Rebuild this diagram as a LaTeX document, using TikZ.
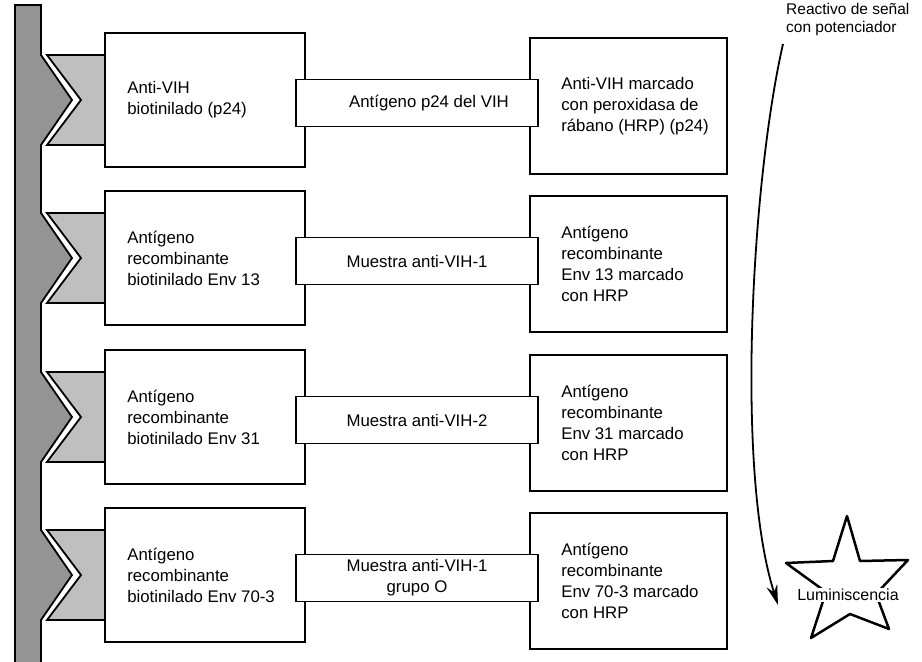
\documentclass[tikz,border=0pt]{standalone}
\usepackage{fontspec}
\setmainfont{Liberation Sans}
\usetikzlibrary{arrows.meta}
\begin{document}
\begin{tikzpicture}[x=1pt,y=-1pt,
  box/.style={draw, line width=1.8pt, fill=white, inner sep=0pt},
  lbox/.style={box, minimum width=200pt, minimum height=134pt},
  rbox/.style={box, minimum width=197pt, minimum height=136pt},
  mbox/.style={box, minimum width=242pt, minimum height=47pt, font=\fontsize{16.8}{21}\selectfont, align=center},
  txt/.style={font=\fontsize{16.8}{21}\selectfont, align=left, inner sep=0pt, anchor=west},
  bar/.style={fill=black!42, draw=black, line width=1.8pt, line join=miter},
  piece/.style={fill=black!25, draw=black, line width=1.8pt},
  starline/.style={draw=black, line width=2.5pt, line join=round}
  ]
\useasboundingbox (0,0) rectangle (922,662);
\fill[white] (0,0) rectangle (922,662);
% support bar
\begin{scope}
\clip (0,0) rectangle (922,662);
\filldraw[bar] (15,5) -- (41,5)
  -- (41,55) -- (72,100) -- (41,145)
  -- (41,213) -- (72,258) -- (41,303)
  -- (41,372) -- (72,417) -- (41,462)
  -- (41,530) -- (72,575) -- (41,620)
  -- (41,672) -- (15,672) -- cycle;
\end{scope}
% chevron pieces
\foreach \c in {100,258,417,575}{
  \filldraw[piece] (47,\c-45) -- (106,\c-45) -- (106,\c+45) -- (47,\c+45) -- (81,\c) -- cycle;
}
% left boxes
\node[lbox] (L1) at (205,100) {};
\node[lbox] (L2) at (205,258) {};
\node[lbox] (L3) at (205,417) {};
\node[lbox] (L4) at (205,575) {};
\node[txt] (tL1) at ([xshift=23pt]L1.west) {Anti-VIH\\biotinilado (p24)};
\node[txt] (tL2) at ([xshift=23pt]L2.west) {Antígeno\\recombinante\\biotinilado Env 13};
\node[txt] (tL3) at ([xshift=23pt]L3.west) {Antígeno\\recombinante\\biotinilado Env 31};
\node[txt] (tL4) at ([xshift=23pt]L4.west) {Antígeno\\recombinante\\biotinilado Env 70-3};
% right boxes
\node[rbox] (R1) at (628.5,106) {};
\node[rbox] (R2) at (628.5,264) {};
\node[rbox] (R3) at (628.5,423) {};
\node[rbox] (R4) at (628.5,581) {};
\node[txt] (tR1) at ([xshift=32pt]R1.west) {Anti-VIH marcado\\con peroxidasa de\\rábano (HRP) (p24)};
\node[txt] (tR2) at ([xshift=32pt]R2.west) {Antígeno\\recombinante\\Env 13 marcado\\con HRP};
\node[txt] (tR3) at ([xshift=32pt]R3.west) {Antígeno\\recombinante\\Env 31 marcado\\con HRP};
\node[txt] (tR4) at ([xshift=32pt]R4.west) {Antígeno\\recombinante\\Env 70-3 marcado\\con HRP};
% middle boxes
\node[mbox] (M1) at (417,103) {\hspace*{24pt}Antígeno p24 del VIH};
\node[mbox] (M2) at (417,261) {Muestra anti-VIH-1};
\node[mbox] (M3) at (417,420) {Muestra anti-VIH-2};
\node[mbox] (M4) at (417,578) {Muestra anti-VIH-1\\grupo O};
% signal reagent label and arrow
\node[font=\fontsize{15.5}{18}\selectfont, align=left, anchor=north west, inner sep=0pt] (sig) at (786,3) {Reactivo de señal\\con potenciador};
\coordinate (astart) at (783,44);
\coordinate (aend) at (778,605);
\draw[line width=1.8pt, -{Stealth[length=20pt,width=11pt]}] (astart) .. controls (752,180) and (735,470) .. (aend);
% star
\draw[starline] (847,516) -- (860,561) -- (908,560) -- (876,594) -- (889,629) -- (850,614) -- (811,638) -- (826,592) -- (786,563) -- (833,561) -- cycle;
\node[fill=white, inner sep=1.5pt, font=\fontsize{16}{19}\selectfont] (lum) at (848,595) {Luminiscencia};
\end{tikzpicture}
\end{document}
